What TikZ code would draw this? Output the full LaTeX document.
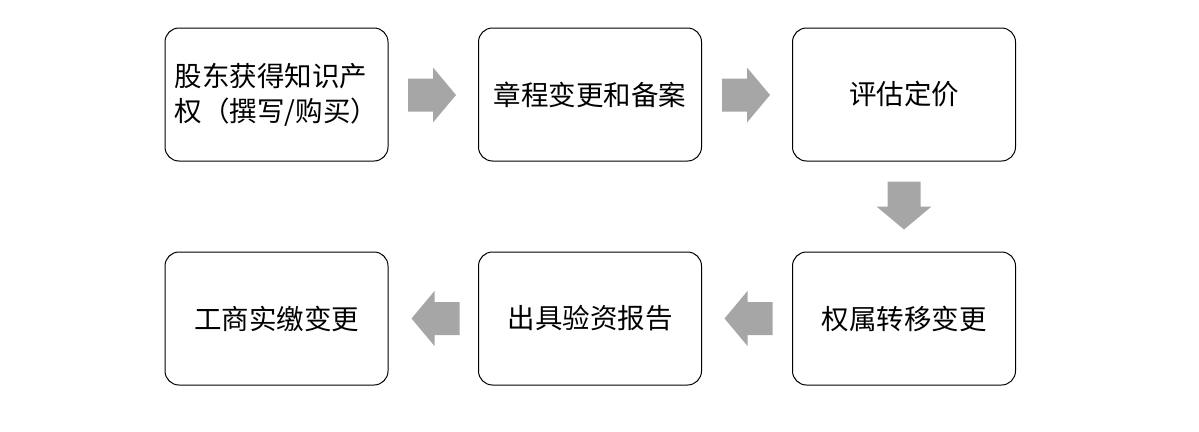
\documentclass[tikz,border=0pt]{standalone}
\usepackage{fontspec}
\setmainfont{Noto Sans CJK SC}
\tikzset{
  stepbox/.style={draw=black, line width=1pt, rounded corners=14pt, minimum width=223pt, minimum height=133pt, inner sep=0pt, font=\fontsize{27.5}{35}\selectfont, align=center},
  blockarrow/.pic={\fill[black!35] (-24,-16.5) -- (1,-16.5) -- (1,-27.5) -- (24,0) -- (1,27.5) -- (1,16.5) -- (-24,16.5) -- cycle;},
}
\begin{document}
\begin{tikzpicture}[x=1pt,y=-1pt]
\useasboundingbox (0,0) rectangle (1199,431);
\node[stepbox, align=left] (b1) at (276.5,94.5) {股东获得知识产\\权（撰写/购买）};
\node[stepbox] (b2) at (590,94.5) {章程变更和备案};
\node[stepbox] (b3) at (904,94.5) {评估定价};
\node[stepbox] (b4) at (904,318.5) {权属转移变更};
\node[stepbox] (b5) at (590,318.5) {出具验资报告};
\node[stepbox] (b6) at (276.5,318.5) {工商实缴变更};
\pic (a1) at (432,95) {blockarrow};
\pic (a2) at (746,95) {blockarrow};
\pic[rotate=-90] (a3) at (904,205.5) {blockarrow};
\pic[rotate=180] (a4) at (748.5,318.5) {blockarrow};
\pic[rotate=180] (a5) at (435.5,318.5) {blockarrow};
\end{tikzpicture}
\end{document}
